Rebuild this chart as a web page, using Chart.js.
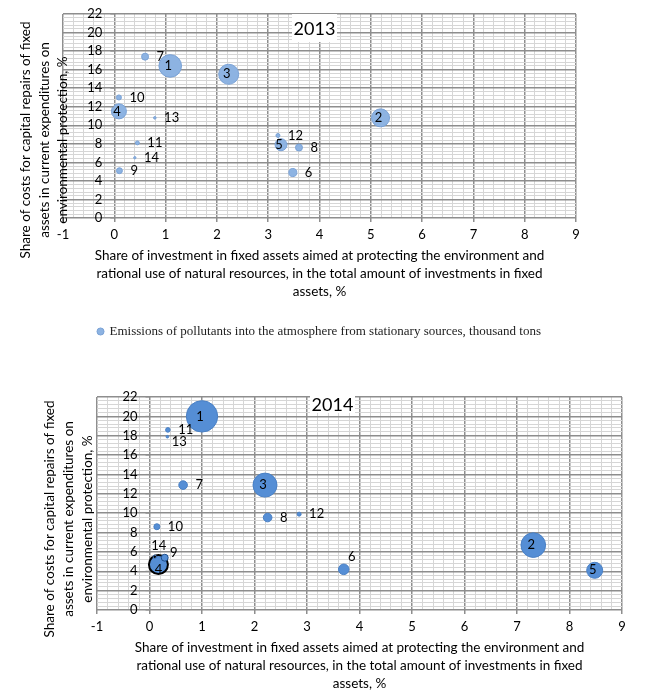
<!DOCTYPE html>
<html>
<head>
<meta charset="utf-8">
<script src="https://cdn.jsdelivr.net/npm/chart.js@4.4.1/dist/chart.umd.min.js"></script>
<style>
html, body { margin: 0; padding: 0; background: #fff; }
#wrap { position: relative; width: 652px; height: 699px; overflow: hidden; }
.box { position: absolute; left: 0; width: 652px; }
</style>
</head>
<body>
<div id="wrap">
  <div class="box" style="top:0;height:351px"><canvas id="chart2013"></canvas></div>
  <div class="box" style="top:350px;height:349px"><canvas id="chart2014"></canvas></div>
</div>
<script>
// regions numbered 1..14
const regions = [1, 2, 3, 4, 5, 6, 7, 8, 9, 10, 11, 12, 13, 14];

// 2013
const invest2013 = [1.09, 5.19, 2.23, 0.09, 3.25, 3.48, 0.6, 3.6, 0.1, 0.09, 0.45, 3.19, 0.79, 0.4];
const repair2013 = [16.4, 10.8, 15.5, 11.5, 7.9, 4.9, 17.4, 7.6, 5.1, 13.0, 8.1, 8.9, 10.8, 6.5];
const emission2013 = [260, 165, 204, 115, 73, 33, 25, 25, 18, 13, 8, 8, 3.4, 2.9];

// 2014
const invest2014 = [1.0, 7.31, 2.2, 0.17, 8.48, 3.7, 0.64, 2.25, 0.29, 0.14, 0.35, 2.85, 0.34, 0.1];
const repair2014 = [20.0, 6.7, 12.9, 4.7, 4.1, 4.2, 12.9, 9.55, 5.4, 8.6, 18.6, 9.9, 17.9, 5.5];
const emission2014 = [265, 163, 155, 97, 69, 30, 20, 20, 13, 9.7, 5.7, 4.3, 1.8, 3.1];

const xTickLabels = [-1, 0, 1, 2, 3, 4, 5, 6, 7, 8, 9];
const yTickLabels = [0, 2, 4, 6, 8, 10, 12, 14, 16, 18, 20, 22];

const xTitle = ['Share of investment in fixed assets aimed at protecting the environment and',
  'rational use of natural resources, in the total amount of investments in fixed',
  'assets, %'];
const yTitle = ['Share of costs for capital repairs of fixed',
  'assets in current expenditures on',
  'environmental protection, %'];
const sizeLabel = 'Emissions of pollutants into the atmosphere from stationary sources, thousand tons';

const SANS = 'Lato, "Liberation Sans", sans-serif';
const SERIF = '"Liberation Serif", "DejaVu Serif", serif';
const MAJOR = '#8e8e8e';
const MINOR = '#d6d6d6';

const near = (v, list) => list.some(t => Math.abs(t - v) < 1e-6);

function bubbles(xs, ys, sizes, rMax) {
  const big = Math.max(...sizes);
  return regions.map((id, i) => ({ x: xs[i], y: ys[i], r: rMax * Math.sqrt(sizes[i] / big) }));
}

// tick labels of the vertical axis sit next to x = 0, like in Excel
const excelFrame = {
  id: 'excelFrame',
  afterDraw(chart, args, o) {
    const ctx = chart.ctx, xs = chart.scales.x, ys = chart.scales.y;
    const x0 = xs.getPixelForValue(0);
    ctx.save();
    ctx.fillStyle = '#000';
    ctx.font = '13px ' + SANS;
    ctx.textAlign = 'right';
    ctx.textBaseline = 'middle';
    yTickLabels.forEach(v => {
      const y = ys.getPixelForValue(v);
      ctx.fillText(String(v), x0 - 12, y);
      ctx.strokeStyle = MAJOR;
      ctx.lineWidth = 1;
      ctx.beginPath(); ctx.moveTo(x0 - 4, y); ctx.lineTo(x0, y); ctx.stroke();
    });
    // axis title
    ctx.font = '13.5px ' + SANS;
    ctx.textAlign = 'center';
    yTitle.forEach((line, i) => {
      ctx.save();
      ctx.translate(o.yTitleX[i], o.yTitleY);
      ctx.rotate(-Math.PI / 2);
      ctx.fillText(line, 0, 0);
      ctx.restore();
    });
    // year box
    const b = o.box;
    ctx.fillStyle = '#fff';
    ctx.fillRect(b[0], b[1], b[2], b[3]);
    ctx.fillStyle = '#000';
    ctx.font = '18px ' + SANS;
    ctx.fillText(o.year, b[0] + b[2] / 2, b[1] + b[3] / 2 + 1);
    ctx.restore();
  }
};

const bubbleLabels = {
  id: 'bubbleLabels',
  afterDatasetsDraw(chart, args, o) {
    const ctx = chart.ctx;
    const meta = chart.getDatasetMeta(0);
    ctx.save();
    ctx.font = '13px ' + SANS;
    ctx.fillStyle = '#000';
    ctx.textBaseline = 'middle';
    meta.data.forEach((el, i) => {
      const id = regions[i];
      const r = el.options.radius;
      const nudge = (o.nudge || {})[id];
      let x, y = el.y;
      if (nudge) { x = el.x + nudge[0]; y = el.y + nudge[1]; ctx.textAlign = 'center'; }
      else if (r >= 5.5) { x = el.x - 2; ctx.textAlign = 'center'; }
      else { x = el.x + r + 8; ctx.textAlign = 'left'; }
      ctx.fillText(String(id), x, y);
    });
    ctx.restore();
  }
};

function scales() {
  return {
    x: {
      type: 'linear', min: -1, max: 9,
      ticks: {
        stepSize: 0.2, autoSkip: false, maxTicksLimit: 1000, maxRotation: 0, padding: 6,
        color: '#000', font: { family: SANS, size: 13, lineHeight: 1 },
        callback: v => near(v, xTickLabels) ? String(Math.round(v)) : ''
      },
      grid: {
        color: c => near(c.tick.value, xTickLabels) ? MAJOR : MINOR,
        lineWidth: c => near(c.tick.value, xTickLabels) ? 1.5 : 1,
        tickLength: 4,
        tickColor: c => near(c.tick.value, xTickLabels) ? MAJOR : 'rgba(0,0,0,0)'
      },
      border: { display: false },
      title: {
        display: true, text: xTitle, color: '#000',
        font: { family: SANS, size: 13.5, lineHeight: '18px' },
        padding: { top: 0, bottom: 4 }
      }
    },
    y: {
      type: 'linear', min: 0, max: 22,
      ticks: { stepSize: 0.4, maxTicksLimit: 1000, display: false },
      grid: {
        color: c => near(c.tick.value, yTickLabels) ? MAJOR : MINOR,
        lineWidth: c => near(c.tick.value, yTickLabels) ? 1.5 : 1,
        drawTicks: false
      },
      border: { display: false }
    }
  };
}

new Chart(document.getElementById('chart2013'), {
  type: 'bubble',
  data: {
    datasets: [{
      label: sizeLabel,
      data: bubbles(invest2013, repair2013, emission2013, 11.3),
      backgroundColor: '#8db3e2',
      borderColor: '#7aa2d6',
      borderWidth: 1
    }]
  },
  options: {
    responsive: true, maintainAspectRatio: false, animation: false,
    layout: { padding: { left: 63, right: 76, top: 14, bottom: 3 } },
    scales: scales(),
    plugins: {
      tooltip: { enabled: false },
      legend: {
        position: 'bottom',
        labels: {
          usePointStyle: true, pointStyle: 'circle', boxWidth: 5, boxHeight: 5, padding: 20,
          color: '#222', font: { family: SERIF, size: 13 }
        }
      },
      excelFrame: { year: '2013', box: [292, 14, 45, 28], yTitleX: [26, 45, 63], yTitleY: 140 },
      bubbleLabels: {}
    }
  },
  plugins: [bubbleLabels, excelFrame]
});

new Chart(document.getElementById('chart2014'), {
  type: 'bubble',
  data: {
    datasets: [{
      label: sizeLabel,
      data: bubbles(invest2014, repair2014, emission2014, 15.7),
      backgroundColor: c => regions[c.dataIndex] === 14 ? '#000' : '#558ed5',
      borderColor: c => regions[c.dataIndex] === 4 ? '#000' : (regions[c.dataIndex] === 9 ? '#1f4e8c' : '#4a80c4'),
      borderWidth: c => regions[c.dataIndex] === 4 ? 2 : 1
    }]
  },
  options: {
    responsive: true, maintainAspectRatio: false, animation: false,
    layout: { padding: { left: 97, right: 30, top: 47, bottom: 2 } },
    scales: scales(),
    plugins: {
      tooltip: { enabled: false },
      legend: { display: false },
      excelFrame: { year: '2014', box: [310, 45, 45, 18], yTitleX: [50, 69, 88], yTitleY: 169 },
      bubbleLabels: { nudge: { 14: [4, -11], 6: [8, -13], 9: [9, -5], 4: [0, 5], 13: [12, 5] } }
    }
  },
  plugins: [bubbleLabels, excelFrame]
});
</script>
</body>
</html>
